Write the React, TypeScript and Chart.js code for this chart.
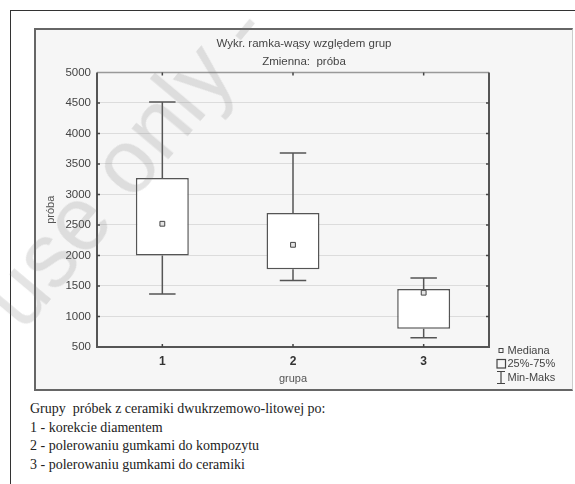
import React, { useEffect, useRef } from "react";
import { Chart, registerables } from "chart.js";

Chart.register(...registerables);

// ---- data ----
const categories = ["1", "2", "3"];
const minValues = [1370, 1590, 650];
const q1Values = [2000, 1775, 800];
const medianValues = [2520, 2175, 1390];
const q3Values = [3270, 2695, 1450];
const maxValues = [4515, 3680, 1630];
const yMin = 500;
const yMax = 5000;
const yStep = 500;
const chartTitle = ["Wykr. ramka-wąsy względem grup", "Zmienna:  próba"];
const yTitle = "próba";
const xTitle = "grupa";
const legendLabels = ["Mediana", "25%-75%", "Min-Maks"];
const captionLines = [
  "Grupy  próbek z ceramiki dwukrzemowo-litowej po:",
  "1 - korekcie diamentem",
  "2 - polerowaniu gumkami do kompozytu",
  "3 - polerowaniu gumkami do ceramiki",
];
const watermark = "use only - ";

const DARK = "#555";
const SANS = "'Liberation Sans', Arial, sans-serif";

const boxPlotPlugin = {
  id: "boxPlotExtras",
  afterDatasetsDraw(chart: any) {
    const { ctx, chartArea, scales } = chart;
    const y = scales.y;
    const x = scales.x;
    const barMeta = chart.getDatasetMeta(1);
    ctx.save();
    // whiskers
    ctx.strokeStyle = DARK;
    ctx.lineWidth = 1.5;
    barMeta.data.forEach((bar: any, i: number) => {
      const cx = bar.x;
      const capHalf = bar.width * 0.25;
      const yMaxP = y.getPixelForValue(maxValues[i]);
      const yMinP = y.getPixelForValue(minValues[i]);
      const yQ3 = y.getPixelForValue(q3Values[i]);
      const yQ1 = y.getPixelForValue(q1Values[i]);
      ctx.beginPath();
      ctx.moveTo(cx, yQ3);
      ctx.lineTo(cx, yMaxP);
      ctx.moveTo(cx - capHalf, yMaxP);
      ctx.lineTo(cx + capHalf, yMaxP);
      ctx.moveTo(cx, yQ1);
      ctx.lineTo(cx, yMinP);
      ctx.moveTo(cx - capHalf, yMinP);
      ctx.lineTo(cx + capHalf, yMinP);
      ctx.stroke();
    });
    // frame
    const { left, right, top, bottom } = chartArea;
    ctx.strokeStyle = "#999";
    ctx.lineWidth = 1.5;
    ctx.beginPath();
    ctx.moveTo(left, top);
    ctx.lineTo(right, top);
    ctx.stroke();
    ctx.strokeStyle = DARK;
    ctx.lineWidth = 2;
    ctx.beginPath();
    ctx.moveTo(left, top);
    ctx.lineTo(left, bottom);
    ctx.lineTo(right, bottom);
    ctx.lineTo(right, top);
    ctx.stroke();
    // inward tick marks
    ctx.strokeStyle = "#444";
    ctx.lineWidth = 1.5;
    ctx.beginPath();
    y.ticks.forEach((t: any) => {
      const py = y.getPixelForValue(t.value);
      if (t.value === yMin || t.value === yMax) return;
      ctx.moveTo(left, py);
      ctx.lineTo(left + 3, py);
      ctx.moveTo(right, py);
      ctx.lineTo(right - 3, py);
    });
    categories.forEach((_c, i) => {
      const px = x.getPixelForValue(i);
      ctx.moveTo(px, top);
      ctx.lineTo(px, top + 3);
      ctx.moveTo(px, bottom);
      ctx.lineTo(px, bottom - 3);
    });
    ctx.stroke();
    // legend
    const sx = right + 12;
    const tx = right + 18.5;
    const rows = [bottom + 3.5, bottom + 17, bottom + 30.5];
    ctx.font = `11px ${SANS}`;
    ctx.fillStyle = "#444";
    ctx.textBaseline = "middle";
    ctx.textAlign = "left";
    legendLabels.forEach((lab, i) => ctx.fillText(lab, tx, rows[i]));
    ctx.strokeStyle = "#444";
    ctx.lineWidth = 1;
    ctx.strokeRect(sx - 2, rows[0] - 2, 4, 4);
    ctx.lineWidth = 1.2;
    ctx.strokeRect(sx - 4, rows[1] - 4.5, 8.5, 8.5);
    ctx.beginPath();
    ctx.moveTo(sx, rows[2] - 6);
    ctx.lineTo(sx, rows[2] + 6);
    ctx.moveTo(sx - 4, rows[2] - 6);
    ctx.lineTo(sx + 4, rows[2] - 6);
    ctx.moveTo(sx - 4, rows[2] + 6);
    ctx.lineTo(sx + 4, rows[2] + 6);
    ctx.stroke();
    ctx.restore();
  },
};

function BoxChart() {
  const ref = useRef<HTMLCanvasElement | null>(null);
  useEffect(() => {
    if (!ref.current) return;
    const chart = new Chart(ref.current, {
      type: "bar",
      data: {
        labels: categories,
        datasets: [
          {
            type: "line",
            label: legendLabels[0],
            data: medianValues,
            showLine: false,
            order: 0,
            pointStyle: "rect",
            pointRadius: 3.4,
            pointBackgroundColor: "#e4e4e4",
            pointBorderColor: "#444",
            pointBorderWidth: 1,
          } as any,
          {
            type: "bar",
            label: legendLabels[1],
            data: q1Values.map((q, i) => [q, q3Values[i]]),
            order: 1,
            backgroundColor: "#ffffff",
            borderColor: DARK,
            borderWidth: 1.5,
            borderSkipped: false,
            categoryPercentage: 1,
            barPercentage: 0.405,
          } as any,
        ],
      },
      options: {
        responsive: false,
        animation: false,
        layout: { padding: 0 },
        plugins: {
          legend: { display: false },
          tooltip: { enabled: false },
          title: {
            display: true,
            text: chartTitle,
            color: "#444",
            font: { family: SANS, size: 11.5, weight: "normal", lineHeight: 1.52 },
            padding: { top: 5.25, bottom: 2.25 },
          },
        },
        scales: {
          x: {
            type: "category",
            offset: true,
            grid: { display: false, drawTicks: false },
            border: { display: false },
            ticks: {
              color: "#333",
              font: { family: SANS, size: 12, weight: "bold" },
              padding: 7,
            },
            title: {
              display: true,
              text: xTitle,
              color: "#555",
              font: { family: SANS, size: 11 },
              padding: { top: 0, bottom: 3.9 },
            },
            afterFit: (s: any) => {
              s.height = 42;
            },
          },
          y: {
            type: "linear",
            min: yMin,
            max: yMax,
            grid: { color: "#dcdcdc", lineWidth: 1, drawTicks: false },
            border: { display: false },
            ticks: {
              stepSize: yStep,
              color: "#444",
              font: { family: SANS, size: 11.5 },
              padding: 6,
              callback: (v: any) => String(v),
            },
            title: {
              display: true,
              text: yTitle,
              color: "#555",
              font: { family: SANS, size: 11 },
              padding: { top: 8.4, bottom: 0 },
            },
            afterFit: (s: any) => {
              s.width = 61;
            },
          },
          yLegendSpace: {
            type: "linear",
            position: "right",
            min: yMin,
            max: yMax,
            grid: { display: false, drawTicks: false },
            border: { display: false },
            ticks: { display: false },
            afterFit: (s: any) => {
              s.width = 83;
            },
          },
        },
      } as any,
      plugins: [boxPlotPlugin],
    });
    return () => chart.destroy();
  }, []);
  return <canvas ref={ref} width={536} height={359} style={{ width: 536, height: 359, display: "block" }} />;
}

export default function App() {
  return (
    <div style={{ position: "absolute", left: 0, top: 0, width: 575, height: 484, overflow: "hidden" }}>
      <div
        style={{
          position: "absolute",
          left: 10,
          top: 10,
          width: 565,
          height: 474,
          borderLeft: "1.5px solid #333",
          borderTop: "1.5px solid #333",
          boxSizing: "border-box",
          background: "#fff",
        }}
      />
      <div
        style={{
          position: "absolute",
          left: 34,
          top: 28,
          width: 539,
          height: 363,
          boxSizing: "border-box",
          borderLeft: "2px solid #666",
          borderTop: "2px solid #666",
          borderBottom: "2px solid #666",
          borderRight: "1px solid #ccc",
          background: "#f6f6f6",
        }}
      >
        <BoxChart />
      </div>
      <div
        style={{
          position: "absolute",
          left: 30,
          top: 400,
          fontFamily: "'Liberation Serif', 'Times New Roman', serif",
          fontSize: 14,
          lineHeight: "18.7px",
          color: "#222",
          whiteSpace: "pre",
        }}
      >
        {captionLines.map((l, i) => (
          <div key={i}>{l}</div>
        ))}
      </div>
      <div
        style={{
          position: "absolute",
          left: -40,
          top: 280,
          transform: "rotate(-50deg)",
          transformOrigin: "0 0",
          fontFamily: SANS,
          fontSize: 90,
          color: "rgba(120,120,120,0.2)",
          whiteSpace: "pre",
          pointerEvents: "none",
        }}
      >
        {watermark}
      </div>
    </div>
  );
}
